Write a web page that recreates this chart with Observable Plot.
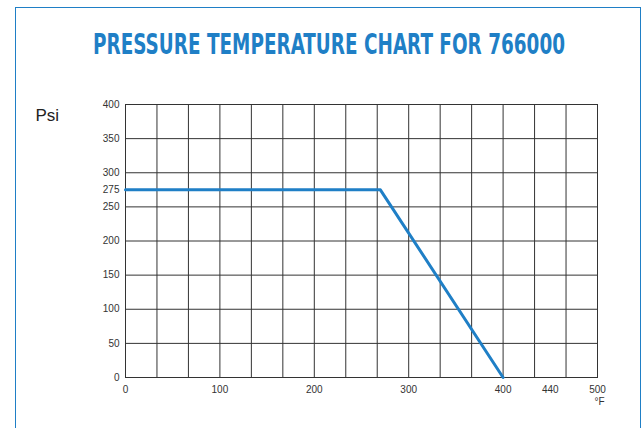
<!DOCTYPE html>
<html>
<head>
<meta charset="utf-8">
<script src="https://cdn.jsdelivr.net/npm/d3@7"></script>
<script src="https://cdn.jsdelivr.net/npm/@observablehq/plot@0.6"></script>
<style>
  html, body { margin: 0; padding: 0; background: #fff; width: 644px; height: 428px; overflow: hidden; }
  #frame { position: absolute; left: 15px; top: 7px; width: 626px; height: 440px; border: 1.5px solid #1f7fc6; box-sizing: border-box; }
  #wrap { position: absolute; left: 0; top: 0; width: 644px; }
  #titlebox { height: 90px; position: relative; }
  #title { position: absolute; left: 93px; top: 29px; margin: 0; white-space: nowrap; transform-origin: 0 50%;
    font-family: 'Liberation Sans Narrow', 'DejaVu Sans Condensed', sans-serif; font-weight: bold; font-size: 28px; line-height: 32px; color: #1f7fc6; }
  #chart svg { display: block; }
</style>
</head>
<body>
<div id="frame"></div>
<div id="wrap">
  <div id="titlebox"><div id="title">PRESSURE TEMPERATURE CHART FOR 766000</div></div>
  <div id="chart"></div>
</div>
<script>
// Data
const temperatureF = [0, 270, 400];
const pressurePsi = [275, 275, 0];

// Axis ticks
const xTickValues = [0, 100, 200, 300, 400, 450, 500];
const xTickLabels = ["0", "100", "200", "300", "400", "440", "500"];
const yTickValues = [0, 50, 100, 150, 200, 250, 275, 300, 350, 400];
const yGridValues = [0, 50, 100, 150, 200, 250, 300, 350, 400];
const xGridCount = 15; // vertical grid divisions across 0–500

// fit title to the reference width
const titleEl = document.getElementById("title");
const targetW = 472;
const w0 = titleEl.getBoundingClientRect().width;
titleEl.style.transform = "scaleX(" + (targetW / w0) + ")";

const xGridValues = d3.range(xGridCount + 1).map(i => i * 500 / xGridCount);
const points = temperatureF.map((t, i) => ({t, p: pressurePsi[i]}));
const labelOf = new Map(xTickValues.map((v, i) => [v, xTickLabels[i]]));

const chart = Plot.plot({
  width: 644,
  height: 338,
  marginLeft: 125,
  marginRight: 47,
  marginTop: 14,
  marginBottom: 51,
  style: {fontFamily: "'Liberation Sans', Arial, sans-serif", fontSize: "10px", color: "#333", background: "transparent"},
  x: {domain: [0, 500]},
  y: {domain: [0, 400]},
  marks: [
    Plot.ruleX(xGridValues, {stroke: "#333", strokeWidth: 1}),
    Plot.ruleY(yGridValues, {stroke: "#333", strokeWidth: 1}),
    Plot.frame({stroke: "#333", strokeWidth: 1}),
    Plot.axisX({ticks: xTickValues, tickFormat: d => labelOf.get(d), tickSize: 0, tickPadding: 8, label: null, fill: "#333"}),
    Plot.axisY({ticks: yTickValues, tickFormat: d => String(d), tickSize: 0, tickPadding: 6, label: null, fill: "#333"}),
    Plot.line(points, {x: "t", y: "p", stroke: "#1f7fc6", strokeWidth: 3}),
    Plot.text(["Psi"], {frameAnchor: "top-left", dx: -90, dy: 4, textAnchor: "start", fontSize: 17, fill: "#222"}),
    Plot.text(["°F"], {frameAnchor: "bottom-right", dx: 2, dy: 27, textAnchor: "middle", fontSize: 10, fill: "#333"})
  ]
});
document.getElementById("chart").appendChild(chart);
</script>
</body>
</html>
